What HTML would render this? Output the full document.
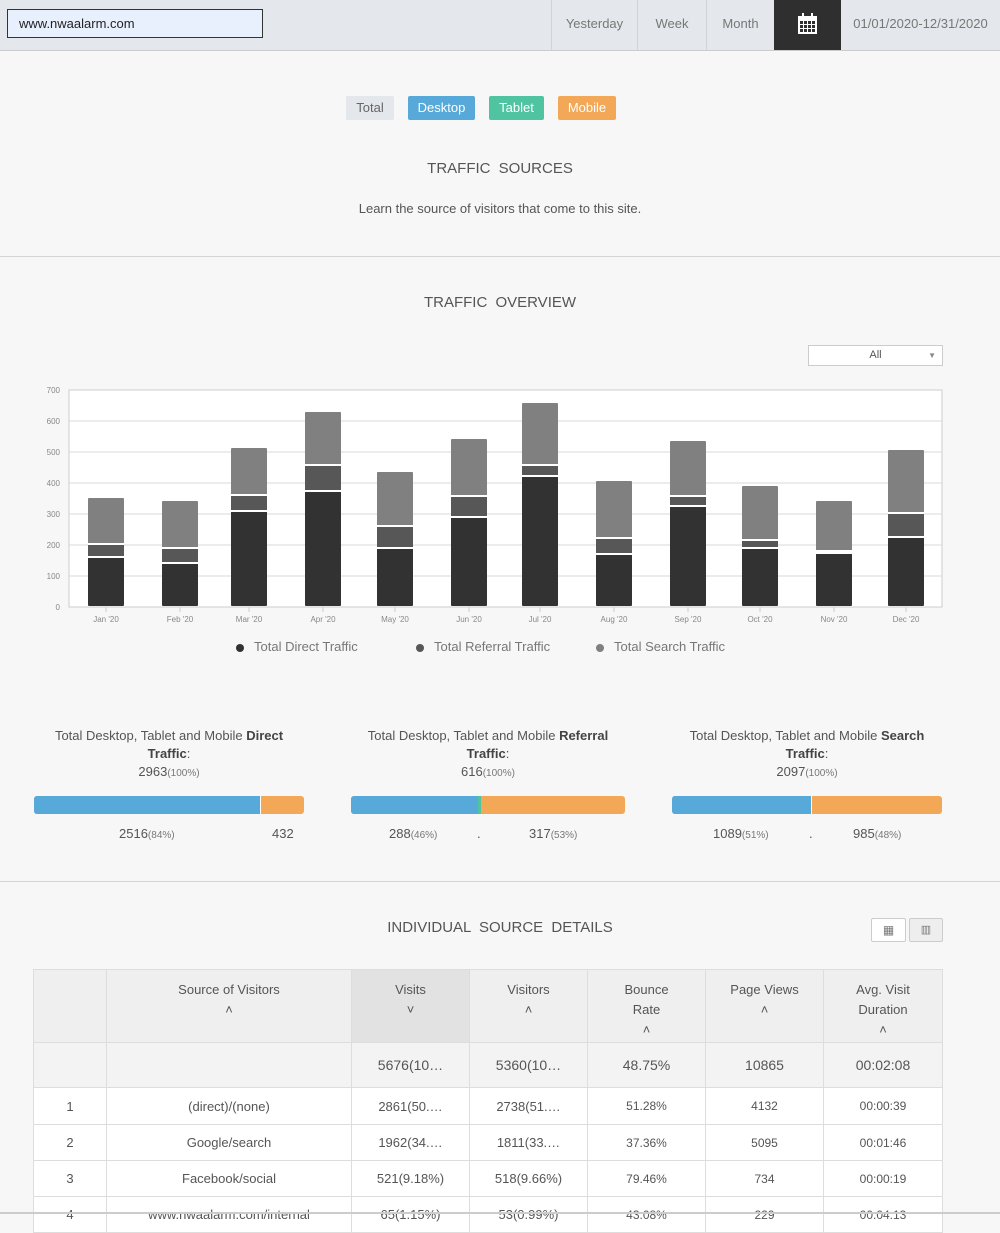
<!DOCTYPE html>
<html><head><meta charset="utf-8"><style>
*{box-sizing:border-box;margin:0;padding:0}
body{width:1000px;height:1214px;overflow:hidden;background:#f7f7f7;font-family:"Liberation Sans",sans-serif;color:#555;position:relative}
.a{position:absolute}
.top{left:0;top:0;width:1000px;height:51px;background:#e4e7eb;border-bottom:1px solid #ccc}
.inp{left:7px;top:9px;width:256px;height:29px;background:#e8f0fe;border:1px solid #333;font-size:13px;color:#222;padding:6px 0 0 11px}
.tb{top:0;height:50px;border-left:1px solid #cfd2d6;font-size:13px;color:#777;text-align:center;line-height:47px}
.fb{top:96px;height:24px;font-size:13px;line-height:24px;text-align:center;color:#fff;border-radius:2px}
.h{width:1000px;left:0;text-align:center;font-size:15px;letter-spacing:0;word-spacing:4px;color:#555}
.hr{left:0;width:1000px;height:1px;background:#d4d4d4}
.sm{font-size:13px;color:#555;text-align:center;line-height:18px}
.sm b{color:#444}
.sm small{font-size:10px;color:#777}
table{position:absolute;left:33px;top:969px;border-collapse:collapse;font-size:13px;color:#555}
td{border:1px solid #ddd;text-align:center;background:#fff}
tr.hd td{vertical-align:top;padding-top:10px;line-height:20px;background:#efefef}
</style></head><body>
<div class="a top"></div>
<div class="a inp">www.nwaalarm.com</div>
<div class="a tb" style="left:551px;width:86px">Yesterday</div>
<div class="a tb" style="left:637px;width:69px">Week</div>
<div class="a tb" style="left:706px;width:68px">Month</div>
<div class="a" style="left:774px;top:0;width:67px;height:50px;background:#2f2f2f"></div>
<svg class="a" style="left:797px;top:13px" width="21" height="22" viewBox="0 0 21 22"><rect x="1" y="3" width="19" height="18" fill="#fff"/><rect x="5" y="0" width="2" height="5" fill="#fff"/><rect x="14" y="0" width="2" height="5" fill="#fff"/><g fill="#2f2f2f"><rect x="3" y="8" width="3" height="3"/><rect x="7" y="8" width="3" height="3"/><rect x="11" y="8" width="3" height="3"/><rect x="15" y="8" width="3" height="3"/><rect x="3" y="12" width="3" height="3"/><rect x="7" y="12" width="3" height="3"/><rect x="11" y="12" width="3" height="3"/><rect x="15" y="12" width="3" height="3"/><rect x="3" y="16" width="3" height="3"/><rect x="7" y="16" width="3" height="3"/><rect x="11" y="16" width="3" height="3"/><rect x="15" y="16" width="3" height="3"/></g></svg>
<div class="a tb" style="left:841px;width:159px;border-left:none">01/01/2020-12/31/2020</div>

<div class="a fb" style="left:346px;width:48px;background:#e4e7eb;color:#666">Total</div>
<div class="a fb" style="left:408px;width:67px;background:#56a9d9">Desktop</div>
<div class="a fb" style="left:489px;width:55px;background:#50c4a1">Tablet</div>
<div class="a fb" style="left:558px;width:58px;background:#f2a856">Mobile</div>

<div class="a h" style="top:160px">TRAFFIC SOURCES</div>
<div class="a h" style="top:201px;font-size:13px;word-spacing:0">Learn the source of visitors that come to this site.</div>
<div class="a hr" style="top:256px"></div>
<div class="a h" style="top:294px">TRAFFIC OVERVIEW</div>
<div class="a" style="left:808px;top:345px;width:135px;height:21px;background:#fff;border:1px solid #ccc;font-size:11px;color:#555;text-align:center;line-height:19px">All<span style="position:absolute;right:6px;font-size:8px;color:#888">▼</span></div>

<svg class="a" style="left:0;top:380px" width="1000" height="250" font-family="Liberation Sans" font-size="8" fill="#888">
<rect x="69" y="10" width="873" height="217" fill="#fff" stroke="#ccc"/>
<g stroke="#d8d8d8"><line x1="69" x2="942" y1="41" y2="41"/><line x1="69" x2="942" y1="72" y2="72"/><line x1="69" x2="942" y1="103" y2="103"/><line x1="69" x2="942" y1="134" y2="134"/><line x1="69" x2="942" y1="165" y2="165"/><line x1="69" x2="942" y1="196" y2="196"/></g>
<g text-anchor="end"><text x="60" y="13">700</text><text x="60" y="44">600</text><text x="60" y="75">500</text><text x="60" y="106">400</text><text x="60" y="137">300</text><text x="60" y="168">200</text><text x="60" y="199">100</text><text x="60" y="230">0</text></g>
<g id="bars"></g>
</svg>
<script>
var d=[[88,498,544,557,"Jan"],[162,501,548,563,"Feb"],[231,448,495,511,"Mar"],[305,412,465,491,"Apr"],[377,472,526,548,"May"],[451,439,496,517,"Jun"],[522,403,465,476,"Jul"],[596,481,538,554,"Aug"],[670,441,496,506,"Sep"],[742,486,540,548,"Oct"],[816,501,551,553,"Nov"],[888,450,513,537,"Dec"]];
var s="";d.forEach(function(b){var o=380,x=b[0],B=606-o,t=b[1]-o,r=b[2]-o,dd=b[3]-o;
s+='<rect x="'+x+'" y="'+t+'" width="36" height="'+(r-t)+'" fill="#808080" rx="1"/>';
s+='<rect x="'+x+'" y="'+r+'" width="36" height="'+(dd-r)+'" fill="#575757"/>';
s+='<rect x="'+x+'" y="'+dd+'" width="36" height="'+(B-dd)+'" fill="#323232" rx="1"/>';
s+='<line x1="'+x+'" x2="'+(x+36)+'" y1="'+r+'" y2="'+r+'" stroke="#fff" stroke-width="2"/>';
s+='<line x1="'+x+'" x2="'+(x+36)+'" y1="'+dd+'" y2="'+dd+'" stroke="#fff" stroke-width="2"/>';
s+='<line x1="'+(x+18)+'" x2="'+(x+18)+'" y1="227" y2="232" stroke="#ccc"/>';
s+='<text x="'+(x+18)+'" y="242" text-anchor="middle">'+b[4]+" '20</text>";});
document.getElementById("bars").innerHTML=s;
</script>
<div class="a" style="left:236px;top:639px;font-size:13px;color:#777;width:600px">
<span style="position:absolute;left:0;top:5px;width:8px;height:8px;border-radius:50%;background:#323232"></span><span style="position:absolute;left:18px">Total Direct Traffic</span>
<span style="position:absolute;left:180px;top:5px;width:8px;height:8px;border-radius:50%;background:#575757"></span><span style="position:absolute;left:198px">Total Referral Traffic</span>
<span style="position:absolute;left:360px;top:5px;width:8px;height:8px;border-radius:50%;background:#808080"></span><span style="position:absolute;left:378px">Total Search Traffic</span>
</div>

<div class="a sm" style="left:34px;top:727px;width:270px">Total Desktop, Tablet and Mobile <b>Direct<br>Traffic</b>:<br>2963<small>(100%)</small></div>
<div class="a sm" style="left:351px;top:727px;width:274px">Total Desktop, Tablet and Mobile <b>Referral<br>Traffic</b>:<br>616<small>(100%)</small></div>
<div class="a sm" style="left:672px;top:727px;width:270px">Total Desktop, Tablet and Mobile <b>Search<br>Traffic</b>:<br>2097<small>(100%)</small></div>

<div class="a" style="left:34px;top:796px;width:270px;height:18px;border-radius:3px;overflow:hidden;background:#f2a856"><div style="width:227px;height:18px;background:#56a9d9;border-right:1px solid #fff"></div></div>
<div class="a" style="left:351px;top:796px;width:274px;height:18px;border-radius:3px;overflow:hidden;background:#f2a856"><div style="width:130px;height:18px;background:#56a9d9;border-right:3px solid #50c4a1"></div></div>
<div class="a" style="left:672px;top:796px;width:270px;height:18px;border-radius:3px;overflow:hidden;background:#f2a856"><div style="width:140px;height:18px;background:#56a9d9;border-right:1px solid #fff"></div></div>

<div class="a sm" style="left:119px;top:825px">2516<small>(84%)</small></div>
<div class="a sm" style="left:272px;top:825px">432</div>
<div class="a sm" style="left:389px;top:825px">288<small>(46%)</small></div>
<div class="a sm" style="left:477px;top:825px">.</div>
<div class="a sm" style="left:529px;top:825px">317<small>(53%)</small></div>
<div class="a sm" style="left:713px;top:825px">1089<small>(51%)</small></div>
<div class="a sm" style="left:809px;top:825px">.</div>
<div class="a sm" style="left:853px;top:825px">985<small>(48%)</small></div>

<div class="a hr" style="top:881px"></div>
<div class="a h" style="top:919px">INDIVIDUAL SOURCE DETAILS</div>
<div class="a" style="left:871px;top:918px;width:35px;height:24px;border:1px solid #ccc;background:#fff;border-radius:2px;font-size:12px;text-align:center;line-height:22px;color:#777">▦</div>
<div class="a" style="left:909px;top:918px;width:34px;height:24px;border:1px solid #ccc;background:#eee;border-radius:2px;font-size:11px;text-align:center;line-height:22px;color:#777">▥</div>

<table>
<tr class="hd" style="height:73px"><td style="width:73px"></td><td style="width:245px">Source of Visitors<br>˄</td><td style="width:118px;background:#e2e2e2">Visits<br>˅</td><td style="width:118px">Visitors<br>˄</td><td style="width:118px">Bounce<br>Rate<br>˄</td><td style="width:118px">Page Views<br>˄</td><td style="width:119px">Avg. Visit<br>Duration<br>˄</td></tr>
<tr style="height:45px;font-size:14px"><td style="background:#f3f3f3"></td><td style="background:#f3f3f3"></td><td style="background:#f3f3f3">5676(10…</td><td style="background:#f3f3f3">5360(10…</td><td style="background:#f3f3f3">48.75%</td><td style="background:#f3f3f3">10865</td><td style="background:#f3f3f3">00:02:08</td></tr>
<tr style="height:37px"><td>1</td><td>(direct)/(none)</td><td>2861(50.…</td><td>2738(51.…</td><td style="font-size:12px">51.28%</td><td style="font-size:12px">4132</td><td style="font-size:12px">00:00:39</td></tr>
<tr style="height:36px"><td>2</td><td>Google/search</td><td>1962(34.…</td><td>1811(33.…</td><td style="font-size:12px">37.36%</td><td style="font-size:12px">5095</td><td style="font-size:12px">00:01:46</td></tr>
<tr style="height:36px"><td>3</td><td>Facebook/social</td><td>521(9.18%)</td><td>518(9.66%)</td><td style="font-size:12px">79.46%</td><td style="font-size:12px">734</td><td style="font-size:12px">00:00:19</td></tr>
<tr style="height:36px"><td>4</td><td>www.nwaalarm.com/internal</td><td>65(1.15%)</td><td>53(0.99%)</td><td style="font-size:12px">43.08%</td><td style="font-size:12px">229</td><td style="font-size:12px">00:04:13</td></tr>
</table>
<div class="a" style="left:0;top:1212px;width:1000px;height:2px;background:#ccc"></div>
</body></html>
